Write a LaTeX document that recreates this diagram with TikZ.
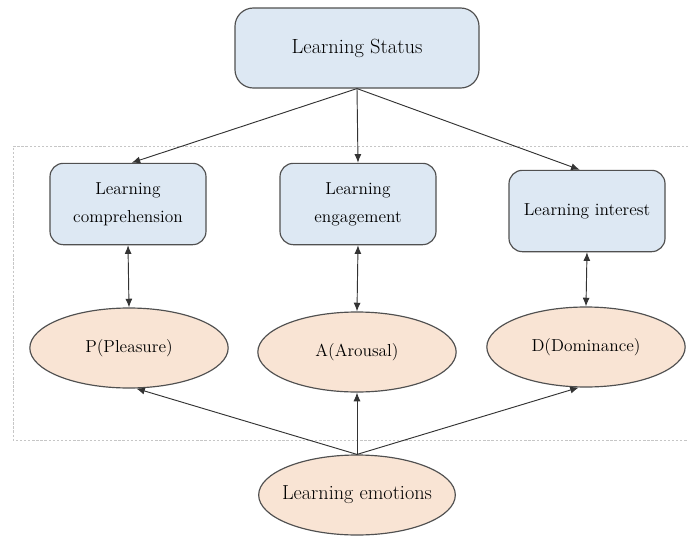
\documentclass[tikz,border=0pt]{standalone}
\usetikzlibrary{arrows.meta,shapes.geometric}
\definecolor{boxblue}{RGB}{221,232,243}
\definecolor{ellpeach}{RGB}{249,228,212}
\definecolor{edgegray}{RGB}{80,80,80}

\tikzset{
  topbox/.style = {draw = edgegray, fill = boxblue, line width = 1pt, rounded corners = 5.5mm,
    minimum width = 7.32cm, minimum height = 2.4cm, text = black, font = \fontsize{17.5}{21}\selectfont},
  dimbox/.style = {draw = edgegray, fill = boxblue, line width = 1pt, rounded corners = 4mm,
    minimum width = 4.68cm, minimum height = 2.44cm, align = center, text = black,
    font = \fontsize{14.8}{24}\selectfont},
  pad/.style = {ellipse, draw = edgegray, fill = ellpeach, line width = 1pt,
    minimum width = 5.95cm, minimum height = 2.4cm, text = black, font = \fontsize{14.8}{19}\selectfont},
  arr/.style = {-{Latex[length = 2.6mm, width = 2.1mm]}, line width = 0.8pt, draw = black!80},
  dblarr/.style = {{Latex[length = 2.6mm, width = 2.1mm]}-{Latex[length = 2.6mm, width = 2.1mm]}, line width = 0.8pt, draw = black!80}
}

\begin{document}
\begin{tikzpicture}[x = 0.3mm, y = -0.3mm]
\useasboundingbox (0,0) rectangle (688,536);
\draw[gray!45, dash pattern = on 2pt off 1.5pt, line width = 0.6pt] (688,146) -- (13,146) -- (13,440) -- (688,440); % frame, open on the right

\node [topbox] (status) at (357,48) {Learning Status};

\node [dimbox] (compr) at (128,204) {Learning\\comprehension};
\node [dimbox] (engage) at (358,204) {Learning\\engagement};
\node [dimbox] (interest) at (587,211) {Learning interest};

\node [pad] (pleas) at (129,348) {P(Pleasure)};
\node [pad] (arous) at (357,352) {A(Arousal)};
\node [pad] (domin) at (586,347) {D(Dominance)};

\node [pad, minimum width = 5.9cm, font = \fontsize{17.3}{21}\selectfont] (emo) at (357,495) {\makebox[3.9cm]{Learning emotions}};

\draw [arr] (status.south) -- (compr.85);
\draw [arr] (status.south) -- (engage.north);
\draw [arr] (status.south) -- (interest.100);

\draw [dblarr] (compr.south) -- (pleas.north);
\draw [dblarr] (engage.south) -- (arous.north);
\draw [dblarr] (interest.south) -- (domin.north);

\draw [arr] (emo.north) -- (pleas.-80);
\draw [arr] (emo.north) -- (arous.south);
\draw [arr] (emo.north) -- (domin.-100);
\end{tikzpicture}
\end{document}
